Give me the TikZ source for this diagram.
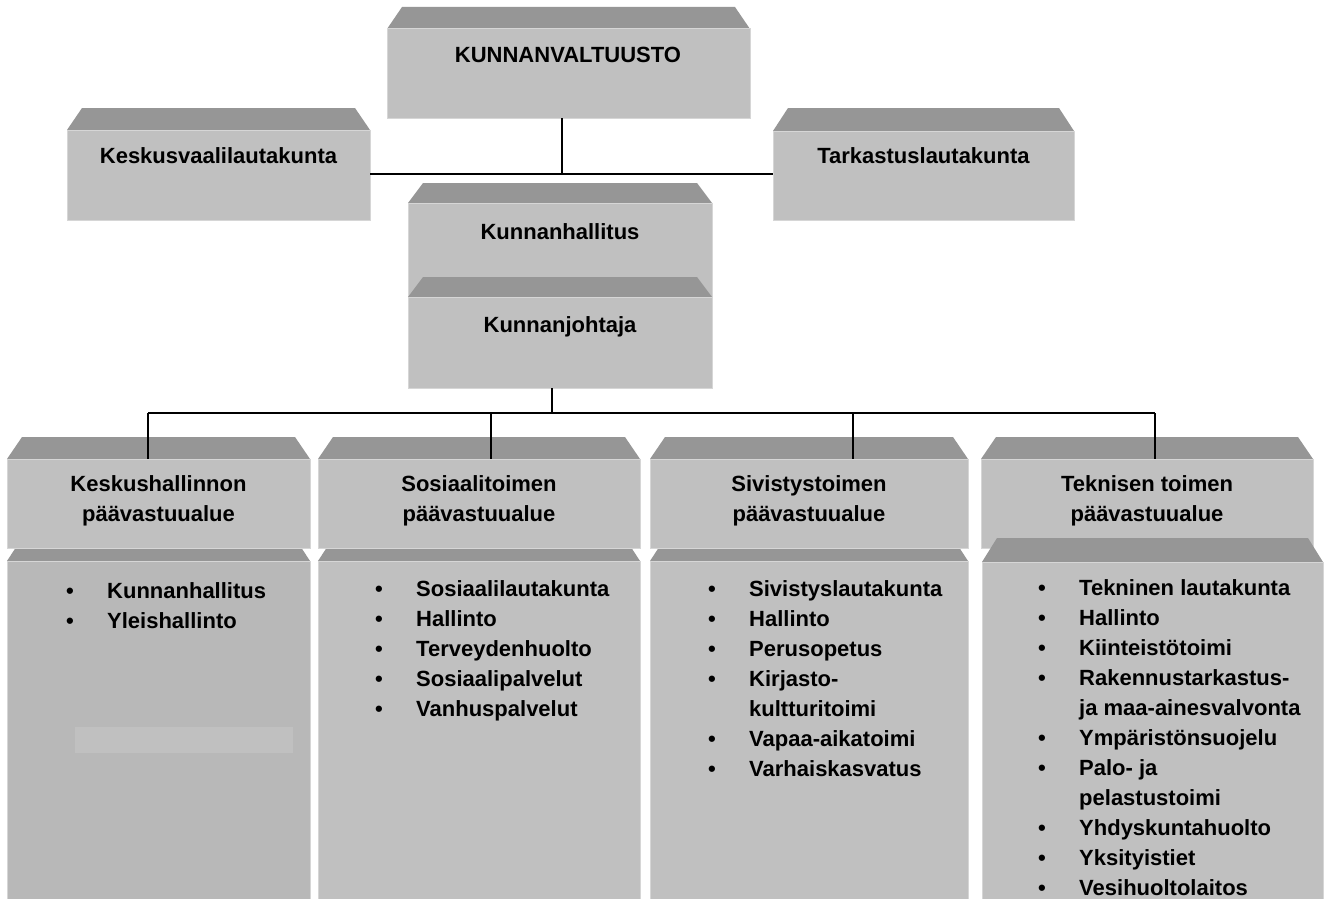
\documentclass[tikz,border=0pt]{standalone}
\usepackage{fontspec}
\setmainfont{Liberation Sans}
\definecolor{facegray}{RGB}{192,192,192}
\definecolor{bevelgray}{RGB}{150,150,150}
\definecolor{edgegray}{RGB}{214,214,214}
\definecolor{darkface}{RGB}{184,184,184}
\tikzset{
  face/.style={draw=edgegray, line width=1pt, anchor=north west, inner sep=0pt, outer sep=0pt},
  bevelfill/.style={fill=bevelgray},
  lbl/.style={font=\bfseries\fontsize{22}{30}\selectfont, inner sep=0pt, anchor=base},
  lst/.style={font=\bfseries\fontsize{22}{30}\selectfont, inner sep=0pt, anchor=base west},
  conn/.style={draw=black, line width=1.3pt}
}
% #1 face colour, #2 name, #3 left, #4 right, #5 bevel top, #6 face top, #7 bottom
\newcommand\bevbox[7][facegray]{%
  \fill[bevelfill] (#3,#6) -- (#3+15,#5) -- (#4-15,#5) -- (#4,#6) -- cycle;
  \node[face, fill=#1, minimum width={#4-#3}, minimum height={#7-#6}] (#2) at (#3,#6) {};
}
\newcommand\blist[1]{\begin{tabular}[t]{@{}p{41pt}@{}l@{}}#1\end{tabular}}
\begin{document}
\begin{tikzpicture}[x=1pt,y=-1pt]
\fill[white] (0,0) rectangle (1328,899);
\useasboundingbox (0,0) rectangle (1328,899);

% top level
\bevbox{kv}{387}{750}{7}{29}{118}
\bevbox{kva}{67}{370}{108}{130}{220}
\bevbox{tark}{773}{1074}{108}{131}{220}
\bevbox{kh}{408}{712}{183}{203}{297}
\bevbox{kj}{408}{712}{277}{297}{388}

% columns
\bevbox[darkface]{c1}{7}{310}{538}{561}{899}
\fill[facegray] (75,727) rectangle (293,753);
\bevbox{c2}{318}{640}{538}{561}{899}
\bevbox{c3}{650}{968}{538}{561}{899}
\bevbox{h1}{7}{310}{437}{459}{548}
\bevbox{h2}{318}{640}{437}{459}{548}
\bevbox{h3}{650}{968}{437}{459}{548}
\bevbox{h4}{981}{1313}{437}{459}{548}
\bevbox{c4}{982}{1323}{538}{562}{899}

% connectors
\coordinate (j1) at (562,174);
\coordinate (j2) at (552,413);
\coordinate (b1) at (148,413);
\coordinate (b2) at (491,413);
\coordinate (b3) at (853,413);
\coordinate (b4) at (1155,413);
\draw[conn] (kv.south -| j1) -- (j1);
\draw[conn] (kva.east |- j1) -- (tark.west |- j1);
\draw[conn] (kj.south -| j2) -- (j2);
\draw[conn] (b1) -- (b4);
\draw[conn] (b1) -- (b1 |- h1.north);
\draw[conn] (b2) -- (b2 |- h2.north);
\draw[conn] (b3) -- (b3 |- h3.north);
\draw[conn] (b4) -- (b4 |- h4.north);

% labels
\node[lbl] (tkv) at (568,63) {KUNNANVALTUUSTO};
\node[lbl] (tkva) at (218.5,163) {Keskusvaalilautakunta};
\node[lbl] (ttark) at (923.5,163) {Tarkastuslautakunta};
\node[lbl] (tkh) at (560,239) {Kunnanhallitus};
\node[lbl] (tkj) at (560,332) {Kunnanjohtaja};

\node[lbl] (th1) at (158.5,491) {\begin{tabular}[t]{@{}c@{}}Keskushallinnon\\päävastuualue\end{tabular}};
\node[lbl] (th2) at (479,491) {\begin{tabular}[t]{@{}c@{}}Sosiaalitoimen\\päävastuualue\end{tabular}};
\node[lbl] (th3) at (809,491) {\begin{tabular}[t]{@{}c@{}}Sivistystoimen\\päävastuualue\end{tabular}};
\node[lbl] (th4) at (1147,491) {\begin{tabular}[t]{@{}c@{}}Teknisen toimen\\päävastuualue\end{tabular}};

\node[lst] (l1) at (66,598) {\blist{•&Kunnanhallitus\\•&Yleishallinto}};
\node[lst] (l2) at (375,596) {\blist{•&Sosiaalilautakunta\\•&Hallinto\\•&Terveydenhuolto\\•&Sosiaalipalvelut\\•&Vanhuspalvelut}};
\node[lst] (l3) at (708,596) {\blist{•&Sivistyslautakunta\\•&Hallinto\\•&Perusopetus\\•&Kirjasto-\\&kultturitoimi\\•&Vapaa-aikatoimi\\•&Varhaiskasvatus}};
\node[lst] (l4) at (1038,595) {\blist{•&Tekninen lautakunta\\•&Hallinto\\•&Kiinteistötoimi\\•&Rakennustarkastus-\\&ja maa-ainesvalvonta\\•&Ympäristönsuojelu\\•&Palo- ja\\&pelastustoimi\\•&Yhdyskuntahuolto\\•&Yksityistiet\\•&Vesihuoltolaitos}};
\end{tikzpicture}
\end{document}
